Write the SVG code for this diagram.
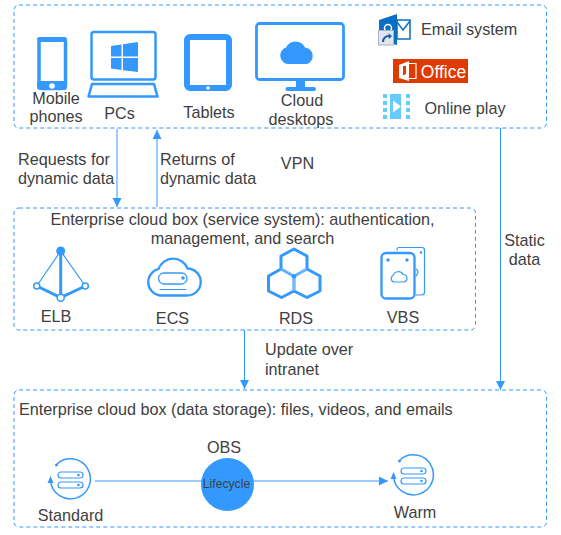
<svg xmlns="http://www.w3.org/2000/svg" width="561" height="535" viewBox="0 0 561 535">
<style>
text{font-family:"Liberation Sans",Arial,sans-serif;font-size:16.2px;fill:#404040;text-anchor:middle}
.l{text-anchor:start}
.box{fill:none;stroke:#3399ff;stroke-width:1;stroke-dasharray:4 3}
.c{fill:none;stroke:#3399ff;stroke-width:1}
.s{fill:none;stroke:#3399ff;stroke-width:3;stroke-linejoin:round;stroke-linecap:round}
.t{fill:none;stroke:#3399ff;stroke-width:1.2;stroke-linejoin:round;stroke-linecap:round}
.f{fill:#3399ff}
</style>
<defs>
<marker id="a" markerUnits="userSpaceOnUse" markerWidth="10" markerHeight="10" refX="9" refY="4.5" orient="auto"><path d="M0 0L9 4.500L0 9Z" fill="#3399ff"/></marker>
<g id="lc">
<path d="M-13-15A20 20 0 1 1-19.500 2" fill="none" stroke="#3399ff" stroke-width="1.500"/>
<circle cx="-13.500" cy="-14" r="1.500" class="f"/>
<path d="M-19.500-3L-22.500 4H-16.500Z" class="f"/>
<rect x="-12" y="-7" width="25" height="6" rx="3" fill="none" stroke="#3399ff" stroke-width="1.200"/>
<rect x="-12" y="3" width="25" height="6" rx="3" fill="none" stroke="#3399ff" stroke-width="1.200"/>
<circle cx="8.500" cy="-4" r="1.300" class="f"/><circle cx="8.500" cy="6" r="1.300" class="f"/>
</g>
</defs>

<g id="connectors">
<path class="c" d="M117 129V207" marker-end="url(#a)"/>
<path class="c" d="M157 207V130" marker-end="url(#a)"/>
<path class="c" d="M500.500 128V390" marker-end="url(#a)"/>
<path class="c" d="M244.500 330V389" marker-end="url(#a)"/>
<path class="c" d="M95 481H388" marker-end="url(#a)"/>
</g>

<g id="box-clients">
<rect class="box" x="14" y="5" width="532.500" height="123" rx="5"/>
</g>
<g id="mobile">
<rect x="39" y="39" width="26.500" height="49.500" rx="3" fill="none" stroke="#3399ff" stroke-width="3.500"/>
<rect x="37" y="37" width="30" height="5" rx="2.500" class="f"/>
<rect x="37" y="81" width="30" height="9" rx="3" class="f"/>
<circle cx="52" cy="86" r="2.800" fill="#fff"/>
<text x="56" y="103.500">Mobile</text><text x="56" y="122">phones</text>
</g>
<g id="pcs">
<rect x="91.500" y="32" width="64" height="47.500" rx="2.500" fill="none" stroke="#3399ff" stroke-width="2.500"/>
<path class="f" d="M111 46L121.500 44.500V56.500H111ZM123 44.300L138 42V56.500H123ZM111 58H121.500V70L111 68.500ZM123 58H138V72L123 70.300Z"/>
<path d="M92 84H154L157.500 96.500H88.500Z" fill="none" stroke="#3399ff" stroke-width="2.500" stroke-linejoin="round"/>
<text x="119.500" y="119">PCs</text>
</g>
<g id="tablets">
<rect x="187" y="37" width="42" height="51" rx="3" fill="none" stroke="#3399ff" stroke-width="6"/>
<circle cx="208" cy="88" r="1.800" fill="#fff"/>
<text x="209" y="118">Tablets</text>
</g>
<g id="cloud-desktops">
<rect x="256.500" y="23.500" width="87" height="56" rx="3" fill="none" stroke="#3399ff" stroke-width="2.800"/>
<path class="f" d="M288 64A8.500 8.500 0 0 1 286 47.500A10.500 10.500 0 0 1 305 47.500A8.500 8.500 0 0 1 307 64Z"/>
<rect x="296" y="80" width="9" height="8" class="f"/>
<rect x="285.500" y="87" width="30.500" height="4" rx="2" class="f"/>
<text x="302" y="106">Cloud</text><text x="301" y="125">desktops</text>
</g>
<g id="email">
<path d="M379 20L397 14V45L379 41Z" fill="#0a6fc2"/>
<path d="M397 20H410V39H397Z" fill="#fff" stroke="#0a6fc2" stroke-width="1.500"/>
<path d="M397 22L403 30L410 21" fill="none" stroke="#0a6fc2" stroke-width="1.500"/>
<circle cx="388" cy="28" r="3.500" fill="none" stroke="#fff" stroke-width="1.500"/>
<rect x="378.500" y="30.500" width="15" height="14.500" fill="#dfe6ee" stroke="#a8b4c0"/>
<path d="M382 42C382 38 385 35 389 35L388 33L392 36L389 39L388.500 37C386 37 384 39 384 42Z" fill="#1c5fa8"/>
<text class="l" x="421" y="35">Email system</text>
</g>
<g id="office">
<rect x="393" y="59" width="75" height="24" fill="#e03a00"/>
<path d="M399 65L409 61V81L399 78ZM403 66V75.500L406 74V66Z" fill="#fff" fill-rule="evenodd"/>
<path d="M409 63.500H416V78.500H409" fill="none" stroke="#fff" stroke-width="1.200"/>
<text x="443.500" y="78" style="fill:#fff;font-size:17.500px">Office</text>
</g>
<g id="online-play">
<rect x="390" y="94" width="11" height="25" fill="#66ccff"/>
<path d="M393 100.500L401 106.500L393 112.500Z" fill="#fff"/>
<path fill="#66ccff" d="M383 94h4v4h-4zM383 101h4v4h-4zM383 108h4v4h-4zM383 115h4v4h-4zM406 94h4v4h-4zM406 101h4v4h-4zM406 108h4v4h-4zM406 115h4v4h-4z"/>
<text class="l" x="424.500" y="114">Online play</text>
</g>

<text class="l" x="18" y="165">Requests for</text>
<text class="l" x="18" y="184">dynamic data</text>
<text class="l" x="160" y="165">Returns of</text>
<text class="l" x="160" y="184">dynamic data</text>
<text x="297.500" y="169">VPN</text>
<text x="524.500" y="246">Static</text>
<text x="524.500" y="265">data</text>
<text class="l" x="265" y="355">Update over</text>
<text class="l" x="265" y="375">intranet</text>

<g id="box-service">
<rect class="box" x="14" y="208" width="461.500" height="122" rx="5"/>
<text x="242.500" y="225">Enterprise cloud box (service system): authentication,</text>
<text x="242.500" y="244">management, and search</text>
</g>
<g id="elb">
<path class="t" d="M60.700 251L36.700 286M60.700 251L85.300 286"/>
<path class="s" d="M60.700 251V297M36.700 286L60.700 297.700L85.300 286"/>
<circle cx="60.700" cy="251" r="4.500" class="f"/>
<circle cx="36.700" cy="286" r="3" fill="#fff" stroke="#3399ff" stroke-width="1.500"/>
<circle cx="85.300" cy="286" r="3" fill="#fff" stroke="#3399ff" stroke-width="1.500"/>
<circle cx="60.700" cy="297.700" r="3.500" fill="#fff" stroke="#3399ff" stroke-width="1.500"/>
<text x="56" y="322">ELB</text>
</g>
<g id="ecs">
<path d="M160 295.500A13.500 13.500 0 0 1 158.500 269A15.500 15.500 0 0 1 187.500 268.500A13.500 13.500 0 0 1 187 295.500Z" fill="none" stroke="#3399ff" stroke-width="2.300" stroke-linejoin="round"/>
<rect x="158.500" y="273" width="28.500" height="11" rx="5.500" fill="none" stroke="#3399ff" stroke-width="1.300"/>
<circle cx="183" cy="278" r="1.800" class="f"/>
<path class="t" d="M160 289.500H186"/>
<text x="172.500" y="324">ECS</text>
</g>
<g id="rds">
<path class="s" d="M294 276.300L281 269V256L294 249L307 256V269ZM281 269L268.500 276V291L281.500 297.500L294 291V276.300M307 269L320 276V291L307 297.500L294 291"/>
<path d="M281 269L294 276.300L307 269M294 276.300V291" fill="none" stroke="#fff" stroke-width="1.600"/>
<path class="t" d="M281 269L294 276.300L307 269M294 276.300V291"/>
<circle cx="294" cy="276.300" r="2.300" class="f"/>
<text x="296" y="324">RDS</text>
</g>
<g id="vbs">
<path class="t" d="M397 250V249.500Q397 247.500 399 247.500H422Q424.500 247.500 424.500 250V292Q424.500 295 422 295H416"/>
<circle cx="421" cy="252.500" r="1.300" class="f"/>
<rect x="381.500" y="253" width="33" height="45.500" rx="4.500" fill="#fff" stroke="#3399ff" stroke-width="2.300"/>
<circle cx="388" cy="260" r="1.700" class="f"/><circle cx="407" cy="260" r="1.700" class="f"/>
<path class="t" d="M394 282A3.500 3.500 0 0 1 393 275.500A5.500 5.500 0 0 1 403 274.500A3.800 3.800 0 0 1 404 282Z"/>
<path class="t" d="M416 269Q420 272 416 276"/>
<text x="403" y="323">VBS</text>
</g>

<g id="box-storage">
<rect class="box" x="14" y="390" width="532.500" height="137" rx="5"/>
<text class="l" x="19" y="415">Enterprise cloud box (data storage): files, videos, and emails</text>
</g>
<g id="standard">
<use href="#lc" x="70" y="479"/>
<text x="70.500" y="521">Standard</text>
</g>
<g id="obs">
<text x="224" y="453">OBS</text>
<circle cx="227.500" cy="484.500" r="26.500" class="f"/>
<text x="226.500" y="488" style="font-size:12.200px">Lifecycle</text>
</g>
<g id="warm">
<use href="#lc" x="413" y="475"/>
<text x="415" y="518">Warm</text>
</g>
</svg>
